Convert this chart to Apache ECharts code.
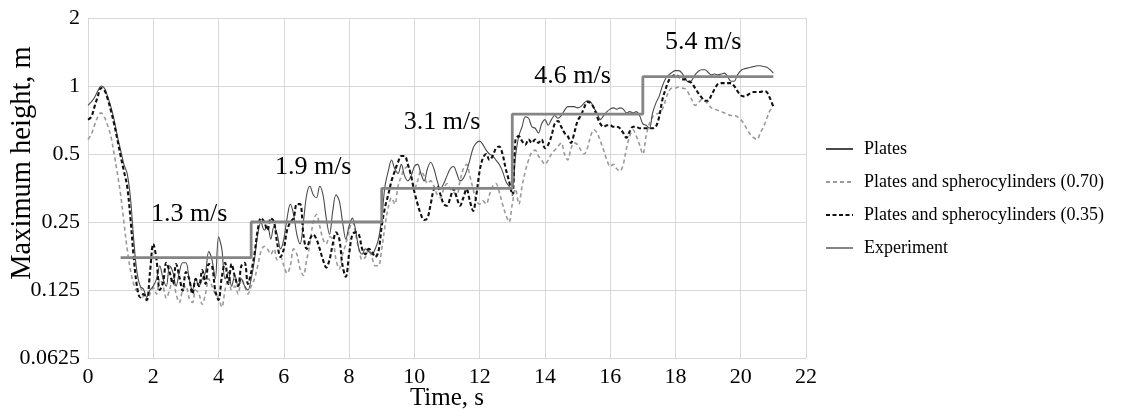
<!DOCTYPE html>
<html>
<head>
<meta charset="utf-8">
<script src="https://cdn.jsdelivr.net/npm/echarts@6/dist/echarts.min.js"></script>
<style>
  html, body { margin: 0; padding: 0; background: #fff; }
  #chart { width: 1145px; height: 410px; }
</style>
</head>
<body>
<div id="chart"></div>
<script>
// ---- Data ----
const TIME_START = 0;      // s
const TIME_STEP = 0.1;     // s, sampling of the simulated series

const plates = [
  0.82, 0.85, 0.89, 0.95, 1.0, 0.98, 0.90, 0.81, 0.71, 0.60, 0.52,
  0.45, 0.41, 0.32, 0.21, 0.15, 0.13, 0.126, 0.116, 0.125, 0.13,
  0.14, 0.16, 0.14, 0.13, 0.16, 0.15, 0.13, 0.15, 0.165, 0.165,
  0.14, 0.125, 0.14, 0.13, 0.14, 0.15, 0.185, 0.17, 0.14, 0.215,
  0.19, 0.14, 0.15, 0.13, 0.145, 0.13, 0.14, 0.13, 0.125, 0.14,
  0.17, 0.22, 0.25, 0.23, 0.24, 0.21, 0.24, 0.22, 0.19, 0.21,
  0.26, 0.30, 0.27, 0.22, 0.20, 0.25, 0.33, 0.36, 0.33, 0.32,
  0.36, 0.33, 0.26, 0.22, 0.28, 0.33, 0.31, 0.25, 0.21, 0.24,
  0.26, 0.23, 0.19, 0.18, 0.19, 0.185, 0.18, 0.19, 0.21, 0.26,
  0.36, 0.42, 0.47, 0.43, 0.41, 0.45, 0.40, 0.38, 0.40, 0.44,
  0.45, 0.41, 0.38, 0.43, 0.46, 0.43, 0.38, 0.35, 0.37, 0.40,
  0.43, 0.44, 0.41, 0.38, 0.39, 0.42, 0.47, 0.53, 0.56, 0.57,
  0.55, 0.52, 0.50, 0.49, 0.47, 0.45, 0.42, 0.38, 0.36, 0.35,
  0.49, 0.60, 0.66, 0.73, 0.72, 0.66, 0.65, 0.62, 0.68, 0.71,
  0.67, 0.71, 0.74, 0.72, 0.74, 0.78, 0.81, 0.81, 0.81, 0.80,
  0.81, 0.84, 0.86, 0.85, 0.80, 0.76, 0.71, 0.74, 0.77, 0.79,
  0.80, 0.79, 0.80, 0.79, 0.76, 0.77, 0.76, 0.77, 0.74, 0.68,
  0.67, 0.65, 0.76, 0.84, 0.90, 1.0, 1.08, 1.12, 1.15, 1.17,
  1.17, 1.14, 1.08, 1.04, 1.06, 1.12, 1.16, 1.18, 1.18, 1.15,
  1.12, 1.13, 1.12, 1.13, 1.14, 1.10, 1.05, 1.05, 1.12, 1.17,
  1.19, 1.20, 1.21, 1.22, 1.23, 1.23, 1.22, 1.21, 1.18, 1.14
];

const sphero070 = [
  0.58, 0.61, 0.67, 0.73, 0.76, 0.73, 0.67, 0.60, 0.50, 0.41, 0.33,
  0.25, 0.19, 0.153, 0.133, 0.124, 0.128, 0.116, 0.112, 0.12, 0.128,
  0.12, 0.14, 0.13, 0.115, 0.125, 0.14, 0.12, 0.11, 0.125, 0.13,
  0.115, 0.11, 0.125, 0.12, 0.108, 0.12, 0.14, 0.13, 0.12, 0.115,
  0.105, 0.125, 0.14, 0.125, 0.13, 0.12, 0.14, 0.13, 0.12, 0.13,
  0.14, 0.16, 0.185, 0.195, 0.19, 0.18, 0.19, 0.17, 0.175, 0.16,
  0.148, 0.16, 0.19, 0.18, 0.155, 0.145, 0.17, 0.20, 0.25, 0.27,
  0.24, 0.21, 0.20, 0.215, 0.21, 0.17, 0.155, 0.18, 0.20, 0.23,
  0.25, 0.22, 0.19, 0.17, 0.175, 0.19, 0.175, 0.16, 0.16, 0.19,
  0.24, 0.29, 0.32, 0.30, 0.36, 0.40, 0.43, 0.44, 0.40, 0.35,
  0.38, 0.42, 0.40, 0.37, 0.38, 0.36, 0.33, 0.32, 0.35, 0.37,
  0.35, 0.34, 0.33, 0.38, 0.43, 0.45, 0.40, 0.35, 0.31, 0.30,
  0.31, 0.30, 0.33, 0.36, 0.37, 0.34, 0.30, 0.27, 0.25, 0.30,
  0.35, 0.30, 0.36, 0.42, 0.47, 0.51, 0.52, 0.49, 0.47, 0.45,
  0.47, 0.50, 0.52, 0.54, 0.56, 0.50, 0.47, 0.53, 0.56, 0.55,
  0.52, 0.50, 0.53, 0.60, 0.64, 0.62, 0.57, 0.52, 0.47, 0.44,
  0.45, 0.43, 0.42, 0.45, 0.53, 0.60, 0.64, 0.60, 0.55, 0.50,
  0.60, 0.68, 0.73, 0.75, 0.76, 0.79, 0.87, 0.95, 0.98, 0.98,
  0.99, 0.98, 0.97, 0.93, 0.87, 0.82, 0.84, 0.87, 0.86, 0.83,
  0.80, 0.79, 0.78, 0.77, 0.76, 0.75, 0.74, 0.74, 0.73, 0.71,
  0.68, 0.64, 0.61, 0.59, 0.58, 0.62, 0.66, 0.72, 0.78, 0.80
];

const sphero035 = [
  0.71, 0.73, 0.81, 0.90, 0.98, 0.96, 0.88, 0.78, 0.68, 0.58, 0.49,
  0.42, 0.36, 0.26, 0.175, 0.13, 0.116, 0.12, 0.113, 0.15, 0.20,
  0.17, 0.125, 0.135, 0.165, 0.15, 0.133, 0.163, 0.143, 0.124, 0.15,
  0.14, 0.12, 0.14, 0.13, 0.153, 0.133, 0.163, 0.16, 0.124, 0.113,
  0.143, 0.165, 0.133, 0.163, 0.143, 0.13, 0.16, 0.165, 0.133, 0.15,
  0.18, 0.23, 0.26, 0.25, 0.23, 0.26, 0.25, 0.20, 0.175, 0.19,
  0.23, 0.25, 0.26, 0.30, 0.30, 0.22, 0.19, 0.21, 0.22, 0.21,
  0.19, 0.17, 0.157, 0.17, 0.20, 0.225, 0.21, 0.16, 0.143, 0.18,
  0.22, 0.225, 0.22, 0.19, 0.18, 0.19, 0.185, 0.175, 0.185, 0.24,
  0.29, 0.33, 0.38, 0.42, 0.46, 0.49, 0.49, 0.45, 0.40, 0.34,
  0.30, 0.27, 0.255, 0.26, 0.30, 0.35, 0.36, 0.33, 0.30, 0.295,
  0.32, 0.35, 0.32, 0.295, 0.32, 0.35, 0.31, 0.28, 0.33, 0.42,
  0.48, 0.50, 0.47, 0.49, 0.53, 0.54, 0.50, 0.43, 0.38, 0.33,
  0.58, 0.60, 0.57, 0.55, 0.58, 0.56, 0.58, 0.56, 0.58, 0.53,
  0.55, 0.60, 0.68, 0.70, 0.66, 0.62, 0.60, 0.56, 0.62, 0.70,
  0.74, 0.80, 0.85, 0.84, 0.80, 0.73, 0.68, 0.66, 0.67, 0.67,
  0.66, 0.66, 0.65, 0.62, 0.59, 0.63, 0.66, 0.66, 0.65, 0.65,
  0.65, 0.65, 0.65, 0.66, 0.73, 0.87, 0.97, 1.06, 1.10, 1.12,
  1.10, 1.07, 1.07, 1.05, 1.03, 0.98, 0.93, 0.89, 0.86, 0.86,
  0.91, 0.97, 1.02, 1.03, 1.03, 1.03, 1.03, 1.00, 0.95, 0.91,
  0.90, 0.91, 0.93, 0.94, 0.94, 0.94, 0.95, 0.94, 0.88, 0.81
];

// Experiment: step levels (value holds from time to next time)
const expTimes  = [1, 5, 9, 13, 17, 21];
const expValues = [0.174, 0.25, 0.352, 0.75, 1.1, 1.1];

// Wind-speed annotations
const annoText = ['1.3 m/s', '1.9 m/s', '3.1 m/s', '4.6 m/s', '5.4 m/s'];
const annoX    = [3.1, 6.9, 10.85, 14.85, 18.85];
const annoY    = [0.272, 0.437, 0.69, 1.105, 1.57];

// Axis ticks
const xTicks = [0, 2, 4, 6, 8, 10, 12, 14, 16, 18, 20, 22];
const yTickValues = [0.0625, 0.125, 0.25, 0.5, 1, 2];
const yTickLabels = ['0.0625', '0.125', '0.25', '0.5', '1', '2'];

const seriesNames = [
  'Plates',
  'Plates and spherocylinders (0.70)',
  'Plates and spherocylinders (0.35)',
  'Experiment'
];

// ---- Build ----
function pairs(values) {
  return values.map((v, i) => [+(TIME_START + i * TIME_STEP).toFixed(2), v]);
}
const FONT = '"Liberation Serif", "Times New Roman", serif';
const TXT = '#000';
const GRID = '#d9d9d9';

const chart = echarts.init(document.getElementById('chart'), null, { renderer: 'canvas' });
chart.setOption({
  animation: false,
  backgroundColor: '#fff',
  grid: { left: 88, right: 339, top: 18, bottom: 52, containLabel: false, outerBoundsMode: 'none' },
  legend: {
    orient: 'vertical',
    left: 820,
    top: 134,
    itemWidth: 27,
    itemHeight: 14,
    itemGap: 13,
    data: seriesNames,
    itemStyle: { opacity: 0 },
    textStyle: { fontFamily: FONT, fontSize: 18, color: TXT, lineHeight: 20, padding: [0, 0, 0, 6] }
  },
  xAxis: {
    type: 'value',
    min: xTicks[0],
    max: xTicks[xTicks.length - 1],
    interval: 2,
    name: 'Time, s',
    nameLocation: 'middle',
    nameGap: 28,
    nameMoveOverlap: false,
    nameTextStyle: { fontFamily: FONT, fontSize: 25, color: TXT },
    axisLine: { show: true, lineStyle: { color: GRID, width: 1 } },
    axisTick: { show: false },
    axisLabel: { fontFamily: FONT, fontSize: 22, color: TXT, margin: 8 },
    splitLine: { show: true, lineStyle: { color: GRID, width: 1 } }
  },
  yAxis: {
    type: 'log',
    logBase: 2,
    min: yTickValues[0],
    max: yTickValues[yTickValues.length - 1],
    name: 'Maximum height, m',
    nameLocation: 'middle',
    nameGap: 51,
    nameMoveOverlap: false,
    nameTextStyle: { fontFamily: FONT, fontSize: 28.5, color: TXT, padding: [0, 0, 0, 50] },
    axisLine: { show: true, lineStyle: { color: GRID, width: 1 } },
    axisTick: { show: false },
    minorTick: { show: false },
    axisLabel: {
      fontFamily: FONT, fontSize: 22, color: TXT, margin: 8,
      formatter: function (v) {
        let best = 0, bd = Infinity;
        yTickValues.forEach((t, i) => {
          const d = Math.abs(Math.log2(t) - Math.log2(v));
          if (d < bd) { bd = d; best = i; }
        });
        return yTickLabels[best];
      }
    },
    splitLine: { show: true, lineStyle: { color: GRID, width: 1 } }
  },
  series: [
    {
      name: seriesNames[0], type: 'line', data: pairs(plates),
      symbol: 'none', smooth: 0.35, z: 3,
      lineStyle: { color: '#4a4a4a', width: 1.1 },
      itemStyle: { color: '#4a4a4a' }
    },
    {
      name: seriesNames[1], type: 'line', data: pairs(sphero070),
      symbol: 'none', smooth: 0.35, z: 2,
      lineStyle: { color: '#9a9a9a', width: 1.6, type: [4, 3] },
      itemStyle: { color: '#9a9a9a' }
    },
    {
      name: seriesNames[2], type: 'line', data: pairs(sphero035),
      symbol: 'none', smooth: 0.35, z: 4,
      lineStyle: { color: '#111', width: 2.1, type: [4, 2.5] },
      itemStyle: { color: '#111' }
    },
    {
      name: seriesNames[3], type: 'line',
      data: expTimes.map((t, i) => [t, expValues[i]]),
      step: 'end', symbol: 'none', z: 5,
      lineStyle: { color: '#858585', width: 2.8 },
      itemStyle: { color: '#858585' }
    },
    {
      name: 'annotations', type: 'scatter', z: 6,
      data: annoX.map((x, i) => [x, annoY[i], annoText[i]]),
      symbolSize: 0,
      itemStyle: { color: '#000', opacity: 1 },
      label: {
        show: true, position: 'inside',
        formatter: p => p.data[2],
        fontFamily: FONT, fontSize: 26, color: '#000', opacity: 1,
        textBorderWidth: 0
      },
      silent: true
    }
  ]
});
</script>
</body>
</html>
